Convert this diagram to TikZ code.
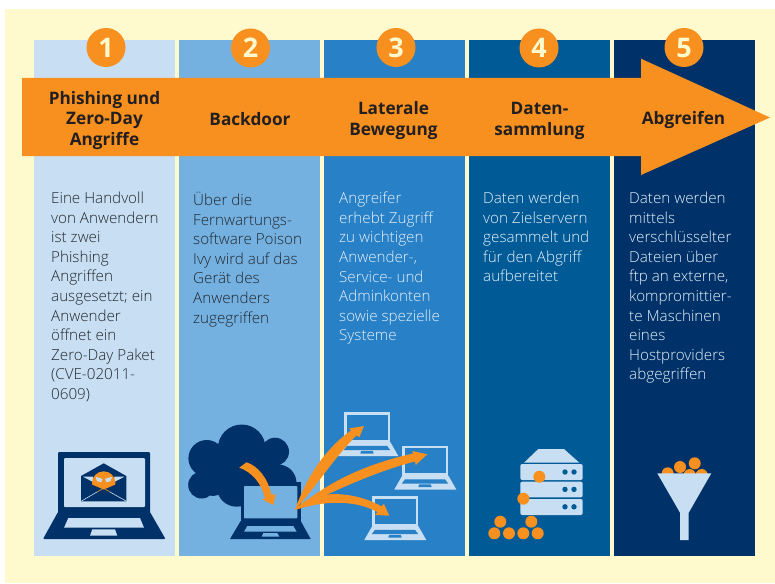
\documentclass[tikz,border=0pt]{standalone}
\usepackage{fontspec}
\setmainfont{Open Sans}
\newfontfamily\lightfont{Open Sans Light}
\usetikzlibrary{positioning}
\definecolor{cream}{HTML}{FFFACD}
\definecolor{pA}{HTML}{C8DFF3}
\definecolor{pB}{HTML}{74B1E1}
\definecolor{pC}{HTML}{2880C6}
\definecolor{pD}{HTML}{005A96}
\definecolor{pE}{HTML}{003168}
\definecolor{orng}{HTML}{F7901E}
\definecolor{ink}{HTML}{231F20}
\definecolor{darktext}{HTML}{22282E}
\definecolor{lighttext}{HTML}{E4F0FA}
\tikzset{
  x=1pt,y=-1pt,
  panel/.style={fill=#1,draw=none},
  numdisc/.style={circle,fill=orng,draw=none,minimum size=39pt,inner sep=0pt,text=cream,font=\fontsize{27}{27}\selectfont\bfseries},
  headline/.style={align=center,inner sep=0pt,text=ink,font=\fontsize{17.2}{20.6}\selectfont\bfseries},
  bodytext/.style={align=left,anchor=north west,inner sep=0pt,font=\lightfont\fontsize{15.2}{19.6}\selectfont},
  ball/.style={fill=orng,draw=none},
}
\newcommand{\minilaptop}[3]{%
  \begin{scope}[shift={(#1,#2)}]
    \fill[pA] (0,0) rectangle (46,30);
    \fill[#3] (2.6,2.6) rectangle (43.4,27.6);
    \fill[pA] (0,30) -- (46,30) -- (54,44) -- (-8,44) -- cycle;
    \fill[#3] (2.7,33.8) -- (42.7,33.8) -- (46,38.2) -- (-0.6,38.2) -- cycle;
    \fill[#3] (16.9,38.8) -- (28.4,38.8) -- (29.4,41.5) -- (16,41.5) -- cycle;
  \end{scope}}
\begin{document}
\begin{tikzpicture}
\useasboundingbox (0,0) rectangle (775,583);
\fill[white] (0,0) rectangle (775,583);
\fill[cream] (5,9) rectangle (775,583);
% panels
\fill[panel=pA] (34,40) rectangle (175,556);
\fill[panel=pB] (179,40) rectangle (320,556);
\fill[panel=pC] (324,40) rectangle (465,556);
\fill[panel=pD] (469,40) rectangle (610,556);
\fill[panel=pE] (614,40) rectangle (755,556);
% numbers
\node[numdisc] (n1) at (106,47.5) {1};
\node[numdisc] (n2) at (250.5,48) {2};
\node[numdisc] (n3) at (396,47.5) {3};
\node[numdisc] (n4) at (539,48) {4};
\node[numdisc] (n5) at (684,47.5) {5};
% main arrow
\fill[orng] (22,78) -- (641,78) -- (641,58.7) -- (770,117.5) -- (641,175) -- (641,156) -- (22,156) -- cycle;
% headings
\node[headline] (h1) at (104.5,120.3) {Phishing und\\Zero-Day\\Angriffe};
\node[headline] (h2) at (250,118.8) {Backdoor};
\node[headline] (h3) at (393.5,120.8) {Laterale\\Bewegung};
\node[headline] (h4) at (539.5,120.8) {Daten-\\sammlung};
\node[headline] (h5) at (683.5,120) {Abgreifen};
% body
\node[bodytext,text=darktext] (t1) at (51,191.8) {Eine Handvoll\\von Anwendern\\ist zwei\\Phishing\\Angriffen\\ausgesetzt; ein\\Anwender\\öffnet ein\\Zero-Day Paket\\(CVE-02011-\\0609)};
\node[bodytext,text=darktext] (t2) at (193,191.8) {Über die\\Fernwartungs-\\software Poison\\Ivy wird auf das\\Gerät des\\Anwenders\\zugegriffen};
\node[bodytext,text=lighttext] (t3) at (339,191.8) {Angreifer\\erhebt Zugriff\\zu wichtigen\\Anwender-,\\Service- und\\Adminkonten\\sowie spezielle\\Systeme};
\node[bodytext,text=lighttext] (t4) at (483,191.8) {Daten werden\\von Zielservern\\gesammelt und\\für den Abgriff\\aufbereitet};
\node[bodytext,text=lighttext] (t5) at (629,191.8) {Daten werden\\mittels\\verschlüsselter\\Dateien über\\ftp an externe,\\kompromittier-\\te Maschinen\\eines\\Hostproviders\\abgegriffen};
% icon 1: laptop with envelope
\fill[pE,rounded corners=1pt] (58,452) rectangle (150,514);
\fill[pA,rounded corners=1pt] (64,458) rectangle (145,507);
\fill[pE,rounded corners=1pt] (58,512) -- (150,512) -- (165.5,539) -- (43,539) -- cycle;
\fill[pA] (68.3,518) -- (140,518) -- (144,527.7) -- (64,527.7) -- cycle;
\fill[pA] (92.3,529.3) -- (115,529.3) -- (117.3,535.7) -- (90,535.7) -- cycle;
\fill[pE] (81,476) -- (103.7,463.3) -- (126.3,476) -- (126.3,501.3) -- (81,501.3) -- cycle;
\fill[pA] (83,476.7) -- (93,476.7) -- (94,482.5) -- cycle;
\fill[pA] (124.3,476.7) -- (114.4,476.7) -- (113.4,482.5) -- cycle;
\fill[orng] (92,483) arc[start angle=180,end angle=360,radius=11.7] -- (115.4,484.5) -- (103.7,489.5) -- (92,484.5) -- cycle;
\fill[pA] (95.5,476.8) -- (102.3,478.8) -- (101.3,482.2) -- (97,481.2) -- cycle;
\fill[pA] (112,476.8) -- (105.1,478.8) -- (106.1,482.2) -- (110.5,481.2) -- cycle;
\draw[pA,line width=.6pt] (81.5,501) -- (97,492);
\draw[pA,line width=.6pt] (126,501) -- (110,492);
\draw[orng,line width=.6pt] (97,492) -- (103.7,488.3) -- (110,492);
% icon 2: cloud and laptop
\fill[pE] (241.7,448.3) circle[radius=23.8];
\fill[pE] (206.7,458.3) circle[radius=18.3];
\fill[pE] (275,451.7) circle[radius=14];
\fill[pE] (278,483) circle[radius=18.5];
\fill[pE] (201.7,485) circle[radius=13.5];
\fill[pE] (213,483) circle[radius=13];
\fill[pE] (236.7,486.7) circle[radius=20];
\fill[pE] (205,470) -- (225,440) -- (275,460) -- (285,480) -- (230,490) -- cycle;
\fill[pE] (240.7,482.3) rectangle (300.7,522);
\fill[pB,rounded corners=.8pt] (244,486) rectangle (297.3,518.3);
\fill[pE] (240.7,521) -- (300.7,521) -- (310.7,539) -- (230,539) -- cycle;
\fill[pB] (247.3,526) -- (293.3,526) -- (296.7,531.7) -- (244,531.7) -- cycle;
\fill[pB] (263.3,533) -- (277.3,533) -- (279.3,536.7) -- (261.7,536.7) -- cycle;
\fill[orng] (239.3,467.7) -- (246.5,462.3) .. controls (258,466) and (268,478) .. (271.3,495) -- (275.7,494) -- (273.3,505) -- (262.3,499.3) -- (265,498.3) .. controls (262,484) and (252,472) .. cycle;
% icon 3: laptops
\minilaptop{344.3}{412}{pC}
\minilaptop{402.3}{445.5}{pC}
\minilaptop{372.3}{496}{pC}
\fill[orng] (295,510) .. controls (308,472) and (330,445) .. (351,430.5) -- (349,428.5) -- (364,426) -- (359.3,437.3) -- (356.5,435.5) .. controls (338,453) and (318,484) .. cycle;
\fill[orng] (295,510) .. controls (335,475) and (380,461) .. (413,453.5) -- (412.3,451) -- (427.3,454.3) -- (415.7,465) -- (415,461.5) .. controls (385,469) and (345,485) .. cycle;
\fill[orng] (295,510) .. controls (310,490) and (350,489) .. (381.5,506.3) -- (384,504) -- (389.3,515.7) -- (375,515) -- (377.5,512) .. controls (355,500) and (325,500) .. cycle;
% icon 4: server
\fill[pA] (538.3,449) -- (564,449) -- (579.3,462.7) -- (524,462.7) -- cycle;
\foreach \ya/\yb/\yc in {464/480/472,481.7/497.3/489.4,499/515/506.8}{
  \fill[pA,rounded corners=2pt] (520.3,\ya) rectangle (582.7,\yb);
  \fill[pD] (565,\yc) circle[radius=2.7];
  \fill[pD] (574,\yc) circle[radius=2.7];
}
\foreach \bx/\by in {539.3/476.7,523.3/498.7,494.3/533.3,509/533.3,523.3/533.3,537.7/533.3,500.3/521.7,531.3/521.7}{
  \fill[ball] (\bx,\by) circle[radius=6];
}
% icon 5: funnel
\foreach \bx/\by in {667.7/473.3,689.7/475,701.7/475,680/467,694.7/463.3}{
  \fill[ball] (\bx,\by) circle[radius=6];
}
\fill[pA] (657.3,473.3) -- (711.3,473.3) -- (688.7,512.7) -- (688.7,540) -- (680,540) -- (680,512.7) -- cycle;
\end{tikzpicture}
\end{document}
